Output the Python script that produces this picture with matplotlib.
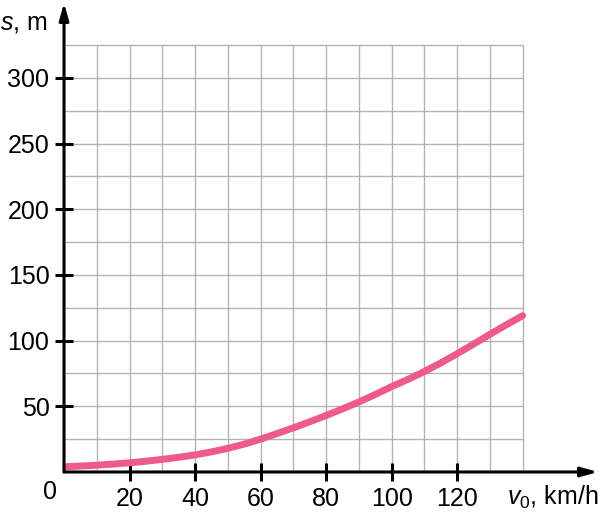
import matplotlib.pyplot as plt

# speed v0 (km/h) and braking distance s (m)
speed = [0, 5, 10, 15, 20, 25, 30, 35, 40, 45, 50, 55, 60, 65, 70,
         75, 80, 85, 90, 95, 100, 105, 110, 115, 120, 125, 130, 135, 140]
distance = [4, 4.5, 5.2, 6, 7, 8.2, 9.6, 11.2, 13, 15.3, 18, 21.2, 25, 29.2, 33.6,
            38.2, 43, 48, 53.3, 59, 65, 70.5, 76.5, 83, 90, 97.3, 104.8, 112, 119]

x_ticks = [20, 40, 60, 80, 100, 120]
y_ticks = [50, 100, 150, 200, 250, 300]
x_grid = list(range(10, 141, 10))
y_grid = list(range(25, 326, 25))

plt.rcParams['font.family'] = ['Liberation Sans', 'DejaVu Sans']
plt.rcParams['mathtext.fontset'] = 'custom'
plt.rcParams['mathtext.rm'] = 'Liberation Sans'
plt.rcParams['mathtext.it'] = 'Liberation Sans:italic'

fig = plt.figure(figsize=(6, 5.16), dpi=100)
ax = fig.add_axes([0.1067, 0.0853, 0.89, 0.909])
ax.set_xlim(0, 163)
ax.set_ylim(0, 357)

# grid only inside the drawn area
ax.vlines(x_grid, 0, 325, color='#b3b3b3', lw=1, zorder=1)
ax.hlines(y_grid, 0, 140, color='#b3b3b3', lw=1, zorder=1)

ax.plot(speed, distance, color='#ee5a8e', lw=5, solid_capstyle='round',
        solid_joinstyle='round', zorder=3)

for s in ax.spines.values():
    s.set_visible(False)

# axes with arrow heads
arrow = dict(arrowstyle='-|>,head_length=1.0,head_width=0.28', color='black', lw=2.2,
             shrinkA=0, shrinkB=0)
ax.annotate('', xy=(163, 0), xytext=(0, 0), arrowprops=arrow, annotation_clip=False, zorder=4)
ax.annotate('', xy=(0, 357), xytext=(0, 0), arrowprops=arrow, annotation_clip=False, zorder=4)

ax.set_xticks(x_ticks)
ax.set_yticks(y_ticks)
ax.tick_params(direction='inout', length=13, width=2.2, labelsize=18, color='black')
ax.tick_params(axis='x', pad=4)
ax.tick_params(axis='y', pad=4)

ax.text(-2, -6, '0', fontsize=18, ha='right', va='top')
ax.text(-5, 342, '$s$, m', fontsize=18, ha='right', va='center')
ax.text(163, -9, '$v_0$, km/h', fontsize=18, ha='right', va='top')

fig.savefig('out.png', dpi=100)
